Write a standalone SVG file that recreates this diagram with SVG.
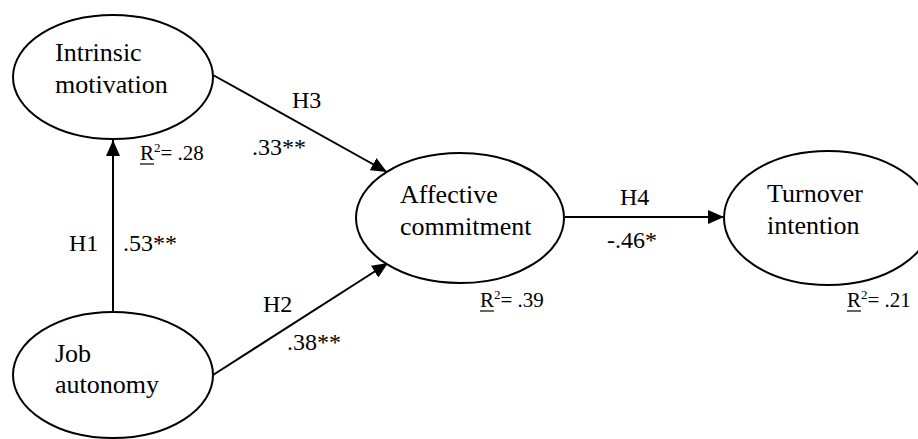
<svg xmlns="http://www.w3.org/2000/svg" width="918" height="439" viewBox="0 0 918 439">
<defs>
<style>
text{fill:#000;font-family:'Liberation Serif','Times New Roman',serif}
.node ellipse{fill:#fff;stroke:#000;stroke-width:2}
.node text{font-size:26px}
.edges line{stroke:#000;stroke-width:2}
.lbl{font-size:24px}
.r2{font-size:21px}
.ul{stroke:#000;stroke-width:1.2}
</style>
<marker id="arr" markerUnits="userSpaceOnUse" markerWidth="16" markerHeight="14" refX="16" refY="7" orient="auto">
<path d="M0,0 L16,7 L0,14 z" fill="#000"/>
</marker>
</defs>
<rect width="918" height="439" fill="#fff"/>
<g class="edges">
<line x1="113" y1="311" x2="113" y2="140" marker-end="url(#arr)"/>
<line x1="213" y1="75" x2="387" y2="172" marker-end="url(#arr)"/>
<line x1="213" y1="375" x2="388" y2="263" marker-end="url(#arr)"/>
<line x1="565" y1="217" x2="724" y2="217" marker-end="url(#arr)"/>
</g>
<g id="intrinsic" class="node">
<ellipse cx="113" cy="77" rx="100" ry="62"/>
<text x="55" y="61">Intrinsic</text>
<text x="55" y="93">motivation</text>
</g>
<g id="job" class="node">
<ellipse cx="113" cy="375" rx="100" ry="63"/>
<text x="55" y="362">Job</text>
<text x="55" y="393">autonomy</text>
</g>
<g id="affective" class="node">
<ellipse cx="460" cy="218" rx="104" ry="65"/>
<text x="400" y="203">Affective</text>
<text x="400" y="235">commitment</text>
</g>
<g id="turnover" class="node">
<ellipse cx="828" cy="218" rx="104" ry="67"/>
<text x="767" y="202">Turnover</text>
<text x="767" y="234">intention</text>
</g>
<g id="labels">
<text class="lbl" x="292" y="108">H3</text>
<text class="lbl" x="252" y="155">.33**</text>
<text class="lbl" x="69" y="251">H1</text>
<text class="lbl" x="123" y="251">.53**</text>
<text class="lbl" x="263" y="312">H2</text>
<text class="lbl" x="287" y="350">.38**</text>
<text class="lbl" x="620" y="205">H4</text>
<text class="lbl" x="607" y="248">-.46*</text>
</g>
<g id="r2">
<text class="r2" x="140" y="160">R<tspan font-size="13" dy="-8">2</tspan><tspan dy="8">= .28</tspan></text>
<line class="ul" x1="140" y1="164" x2="154" y2="164"/>
<text class="r2" x="480" y="307">R<tspan font-size="13" dy="-8">2</tspan><tspan dy="8">= .39</tspan></text>
<line class="ul" x1="480" y1="311" x2="494" y2="311"/>
<text class="r2" x="847" y="307">R<tspan font-size="13" dy="-8">2</tspan><tspan dy="8">= .21</tspan></text>
<line class="ul" x1="847" y1="311" x2="861" y2="311"/>
</g>
</svg>
